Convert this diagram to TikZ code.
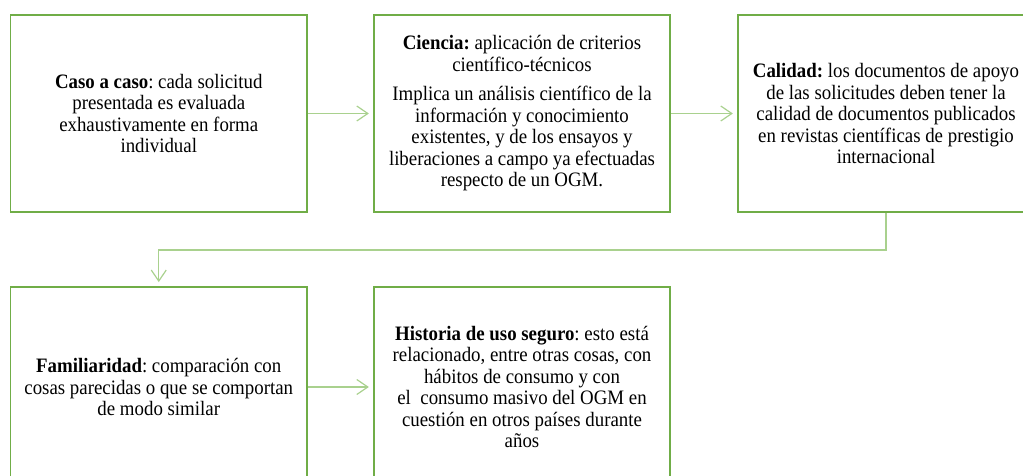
\documentclass[tikz,border=0pt]{standalone}
\usepackage{fontspec}
\setmainfont[FakeStretch=0.92]{Liberation Serif}
\usetikzlibrary{arrows.meta}
\definecolor{boxgreen}{HTML}{70AD47}
\definecolor{arrgreen}{HTML}{A9D18E}
\tikzset{
  box/.style={draw=boxgreen, line width=1.8pt, minimum width=296.5pt, align=center, inner sep=0pt,
    font=\fontsize{20.5pt}{21.5pt}\selectfont\frenchspacing},
  arr/.style={draw=arrgreen, line width=1.4pt, -{Straight Barb[length=11pt,width=15pt,line width=1.2pt]}, shorten >=4pt}
}
\begin{document}
\frenchspacing
\begin{tikzpicture}[x=1pt,y=-1pt]
\useasboundingbox (0,0) rectangle (1023,476);
\clip (0,0) rectangle (1023,476);
\node[box, minimum height=197pt] (b1) at (158.75,113.5)
  {\textbf{Caso a caso}: cada solicitud\\presentada es evaluada\\exhaustivamente en forma\\individual};
\node[box, minimum height=197pt] (b2) at (522,113.5)
  {\textbf{Ciencia:} aplicación de criterios\\científico-técnicos\\[8pt]Implica un análisis científico de la\\información y conocimiento\\existentes, y de los ensayos y\\liberaciones a campo ya efectuadas\\respecto de un OGM.};
\node[box, minimum height=197pt] (b3) at (886,113.5)
  {\textbf{Calidad:} los documentos de apoyo\\de las solicitudes deben tener la\\calidad de documentos publicados\\en revistas científicas de prestigio\\internacional};
\node[box, minimum height=200pt] (b4) at (158.75,387)
  {\textbf{Familiaridad}: comparación con\\cosas parecidas o que se comportan\\de modo similar};
\node[box, minimum height=200pt] (b5) at (522,387)
  {\textbf{Historia de uso seguro}: esto está\\relacionado, entre otras cosas, con\\hábitos de consumo y con\\el\ \ consumo masivo del OGM en\\cuestión en otros países durante\\años};
\coordinate (m) at (0,250);
\draw[arr] (b1) -- (b2);
\draw[arr] (b2) -- (b3);
\draw[arr] (b3.south) |- (m -| b4.north) -- (b4.north);
\draw[arr] (b4) -- (b5);
\end{tikzpicture}
\end{document}
